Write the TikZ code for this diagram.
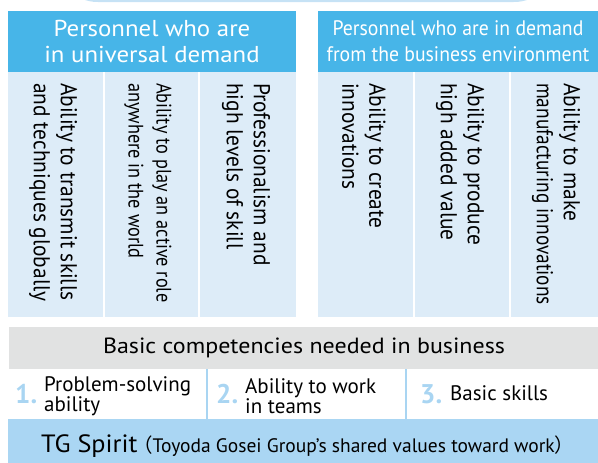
\documentclass[tikz,border=0pt]{standalone}
\usepackage{fontspec}
\setmainfont{PT Sans}
\newfontfamily\hdrAfont[FakeStretch=1.08]{PT Sans}
\newfontfamily\hdrBfont[FakeStretch=0.94]{PT Sans}
\newfontfamily\vAfont[FakeStretch=0.93]{PT Sans}
\newfontfamily\vBfont[FakeStretch=0.87]{PT Sans}
\newfontfamily\vCfont[FakeStretch=0.84]{PT Sans}
\newfontfamily\basicfont[FakeStretch=1.09]{PT Sans}
\newfontfamily\tgfont[FakeStretch=1.05]{PT Sans}
\newfontfamily\cjk{Noto Sans CJK JP}
\definecolor{hdrblue}{HTML}{47B5E8}
\definecolor{colblue}{HTML}{DDECF8}
\definecolor{bargray}{HTML}{E1E2E2}
\definecolor{numblue}{HTML}{A9D5F2}
\definecolor{tgblue}{HTML}{AAD6F3}
\definecolor{arcblue}{HTML}{C6E2F5}
\begin{document}
\begin{tikzpicture}[x=1pt,y=-1pt,
  hdr/.style={fill=hdrblue, text=white, inner sep=0pt, align=center},
  colbox/.style={fill=colblue, inner sep=0pt},
  vtext/.style={rotate=-90, anchor=west, align=left, inner sep=0pt, font=\vAfont\fontsize{23}{27}\selectfont},
  num/.style={text=numblue, inner sep=0pt, anchor=base west, font=\bfseries\fontsize{27}{27}\selectfont},
  item/.style={inner sep=0pt, anchor=west, align=left, font=\fontsize{21}{20}\selectfont},
  sepline/.style={draw=numblue, line width=1.5pt}]
\useasboundingbox (0,0) rectangle (598,463);
% faint arc at top
\fill[arcblue] (85,0) -- (527,0) .. controls (520,2) .. (500,2.2) -- (110,2.2) .. controls (92,2) .. (85,0) -- cycle;
% headers
\node[hdr, minimum width=288pt, minimum height=61pt, font=\hdrAfont\fontsize{23}{26}\selectfont] (h1) at (152,41.5) {Personnel who are\\in universal demand};
\node[hdr, minimum width=280pt, minimum height=61pt, font=\hdrBfont\fontsize{21}{26}\selectfont] (h2) at (458,41.5) {Personnel who are in demand\\from the business environment};
% columns
\node[colbox, minimum width=95pt, minimum height=245pt] (c1) at (55.5,194.5) {};
\node[colbox, minimum width=93pt, minimum height=245pt] (c2) at (151.5,194.5) {};
\node[colbox, minimum width=96pt, minimum height=245pt] (c3) at (248,194.5) {};
\node[colbox, minimum width=95pt, minimum height=245pt] (c4) at (365.5,194.5) {};
\node[colbox, minimum width=94pt, minimum height=245pt] (c5) at (462,194.5) {};
\node[colbox, minimum width=87pt, minimum height=245pt] (c6) at (554.5,194.5) {};
% vertical texts
\node[vtext] (t1) at (53,83) {Ability to transmit skills\\and techniques globally};
\node[vtext, font=\vBfont\fontsize{21}{28}\selectfont] (t2) at (148,83) {Ability to play an active role\\anywhere in the world};
\node[vtext] (t3) at (246,83) {Professionalism and\\high levels of skill};
\node[vtext] (t4) at (364,83) {Ability to create\\innovations};
\node[vtext] (t5) at (460,83) {Ability to produce\\high added value};
\node[vtext] (t6) at (556,83) {Ability to make\\{\vCfont manufacturing innovations}};
% gray bar
\node[fill=bargray, minimum width=590pt, minimum height=42pt, inner sep=0pt, font=\basicfont\fontsize{22}{24}\selectfont] (basic) at (304,348) {Basic competencies needed in business};
% numbered row
\coordinate (s1t) at (207,369); \coordinate (s1b) at (207,419);
\coordinate (s2t) at (406,369); \coordinate (s2b) at (406,419);
\draw[sepline] (s1t) -- (s1b);
\draw[sepline] (s2t) -- (s2b);
\node[num] (n1) at (15,403) {1.};
\node[item] (i1) at (44,396) {Problem-solving\\ability};
\node[num] (n2) at (216,403) {2.};
\node[item] (i2) at (245,396) {Ability to work\\in teams};
\node[num] (n3) at (420,403) {3.};
\node[item, anchor=base west] (i3) at (450,400) {Basic skills};
% TG spirit band
\node[fill=tgblue, minimum width=590pt, minimum height=44pt, inner sep=0pt] (tg) at (303,441) {};
\node[inner sep=0pt, anchor=base west, font=\tgfont\fontsize{25}{25}\selectfont] (tgs) at (41,452) {TG Spirit};
\node[inner sep=0pt, anchor=base west, font=\fontsize{19.5}{20}\selectfont] (tgv) at (133,452) {{\cjk （}Toyoda Gosei Group’s shared values toward work{\cjk ）}};
\end{tikzpicture}
\end{document}
